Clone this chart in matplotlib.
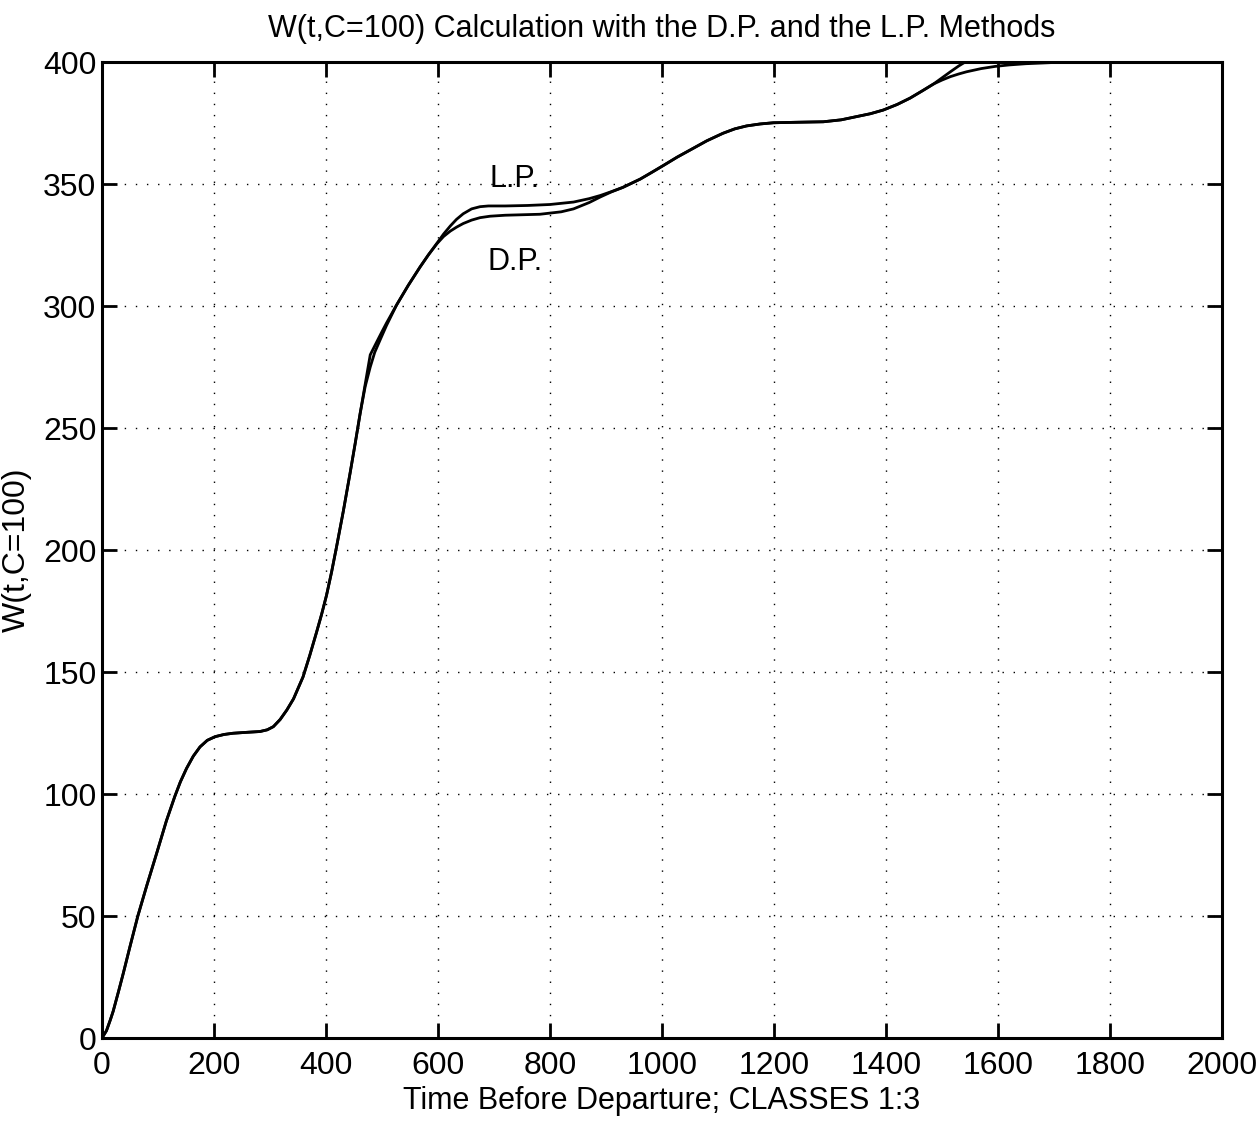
import matplotlib
matplotlib.use("Agg")
import matplotlib.pyplot as plt
from matplotlib import font_manager

# ---- data ----
t_lp = [0, 8, 15, 20, 30, 38, 50, 64, 80, 98, 115, 130, 140, 151, 163, 175, 188,
        202, 218, 234, 260, 282, 295, 306, 318, 330, 342, 359, 371, 383, 392, 401, 410,
        419, 431, 443, 452, 461, 470, 479, 490, 500, 508, 526, 547, 568, 583, 598,
        610, 622, 633, 645, 660, 675, 690, 720, 760, 800, 842, 870, 890, 910,
        930, 961, 982, 1004, 1027, 1050, 1080, 1109, 1130, 1151, 1175, 1199, 1240, 1288,
        1320, 1347, 1372, 1395, 1420, 1443, 1465, 1485,
        1500, 1515, 1530, 1540, 1548, 1600, 1800, 2000]
w_lp = [0, 3, 7.5, 11, 19.5, 26.5, 37.5, 50, 62.5, 76, 89, 99, 105, 110.5, 115.5, 119.3, 122,
        123.5, 124.4, 124.9, 125.3, 125.6, 126.3, 127.6, 130.5, 134.4, 139, 148, 156.8, 166.2, 173.5, 181.5, 191,
        201.5, 216, 231.5, 243.5, 256, 268, 280, 285, 289.5, 293, 300.4, 308.5, 316, 321, 325.7,
        329.5, 332.8, 335.5, 337.8, 339.8, 340.7, 341, 341, 341.2, 341.6, 342.6, 344.0, 345.3, 346.9,
        348.6, 352, 354.8, 357.8, 361, 363.9, 367.7, 370.8, 372.6, 373.8, 374.6, 375.1, 375.3, 375.5,
        376.3, 377.6, 378.8, 380.3, 382.6, 385.2, 388.2, 391,
        393.5, 396, 398.4, 399.8, 400, 400, 400, 400]

t_dp = [0, 8, 15, 20, 30, 38, 50, 64, 80, 98, 115, 130, 140, 151, 163, 175, 188,
        202, 218, 234, 260, 282, 295, 306, 318, 330, 342, 359, 371, 383, 392, 401, 410,
        419, 431, 443, 452, 461, 470, 479, 487, 497, 508, 526, 547, 568, 583, 598,
        610, 622, 633, 645, 660, 675, 693, 720, 782, 820, 842, 870, 890, 910,
        930, 961, 982, 1004, 1027, 1050, 1080, 1109, 1130, 1151, 1175, 1199, 1240, 1288,
        1320, 1347, 1372, 1395, 1420, 1443, 1465, 1485,
        1500, 1515, 1530, 1544, 1570, 1595, 1620, 1650, 1700, 1750, 2000]
w_dp = [0, 3, 7.5, 11, 19.5, 26.5, 37.5, 50, 62.5, 76, 89, 99, 105, 110.5, 115.5, 119.3, 122,
        123.5, 124.4, 124.9, 125.3, 125.6, 126.3, 127.6, 130.5, 134.4, 139, 148, 156.8, 166.2, 173.5, 181.5, 191,
        201.5, 216, 231.5, 243.5, 256, 267, 275, 281, 286.3, 292, 300.4, 308.5, 316, 321, 325.5,
        328.5, 330.7, 332.3, 333.8, 335.2, 336.2, 336.8, 337.2, 337.6, 338.6, 339.8, 342.4, 344.7, 346.8,
        348.6, 352, 354.8, 357.8, 361, 363.9, 367.7, 370.8, 372.6, 373.8, 374.6, 375.1, 375.3, 375.5,
        376.3, 377.6, 378.8, 380.3, 382.6, 385.2, 388.2, 391,
        392.6, 394, 395.1, 396, 397.3, 398.2, 398.8, 399.3, 399.8, 400, 400]

x_ticks = [0, 200, 400, 600, 800, 1000, 1200, 1400, 1600, 1800, 2000]
y_ticks = [0, 50, 100, 150, 200, 250, 300, 350, 400]

title = "W(t,C=100) Calculation with the D.P. and the L.P. Methods"
xlabel = "Time Before Departure; CLASSES 1:3"
ylabel = "W(t,C=100)"

# ---- font ----
names = {f.name for f in font_manager.fontManager.ttflist}
fam = ["Liberation Sans Narrow", "Liberation Sans", "DejaVu Sans"]
fam = [f for f in fam if f in names] or ["DejaVu Sans"]
plt.rcParams['font.family'] = fam

fig = plt.figure(figsize=(12.58, 11.22), dpi=100)
ax = fig.add_axes([102/1258, 84/1122, 1120/1258, 976/1122])

ax.plot(t_lp, w_lp, color='black', lw=2.0, solid_joinstyle='round')
ax.plot(t_dp, w_dp, color='black', lw=2.0, solid_joinstyle='round')

ax.set_xlim(0, 2000)
ax.set_ylim(0, 400)
ax.set_xticks(x_ticks)
ax.set_yticks(y_ticks)
ax.tick_params(direction='in', length=11, width=2, top=True, right=True,
               labelsize=23)
ax.tick_params(axis='x', pad=9)
ax.tick_params(axis='y', pad=4)
for s in ax.spines.values():
    s.set_linewidth(2.2)
ax.grid(True, color='black', linestyle=(0, (1, 7)), linewidth=1.0)

ax.text(737, 352, "L.P.", fontsize=22, ha='center', va='center')
ax.text(737, 318, "D.P.", fontsize=22, ha='center', va='center')

ax.set_title(title, fontsize=22, pad=18)
ax.set_xlabel(xlabel, fontsize=22, labelpad=4)
ax.set_ylabel(ylabel, fontsize=23, labelpad=8)

fig.savefig("out.png", dpi=100)
